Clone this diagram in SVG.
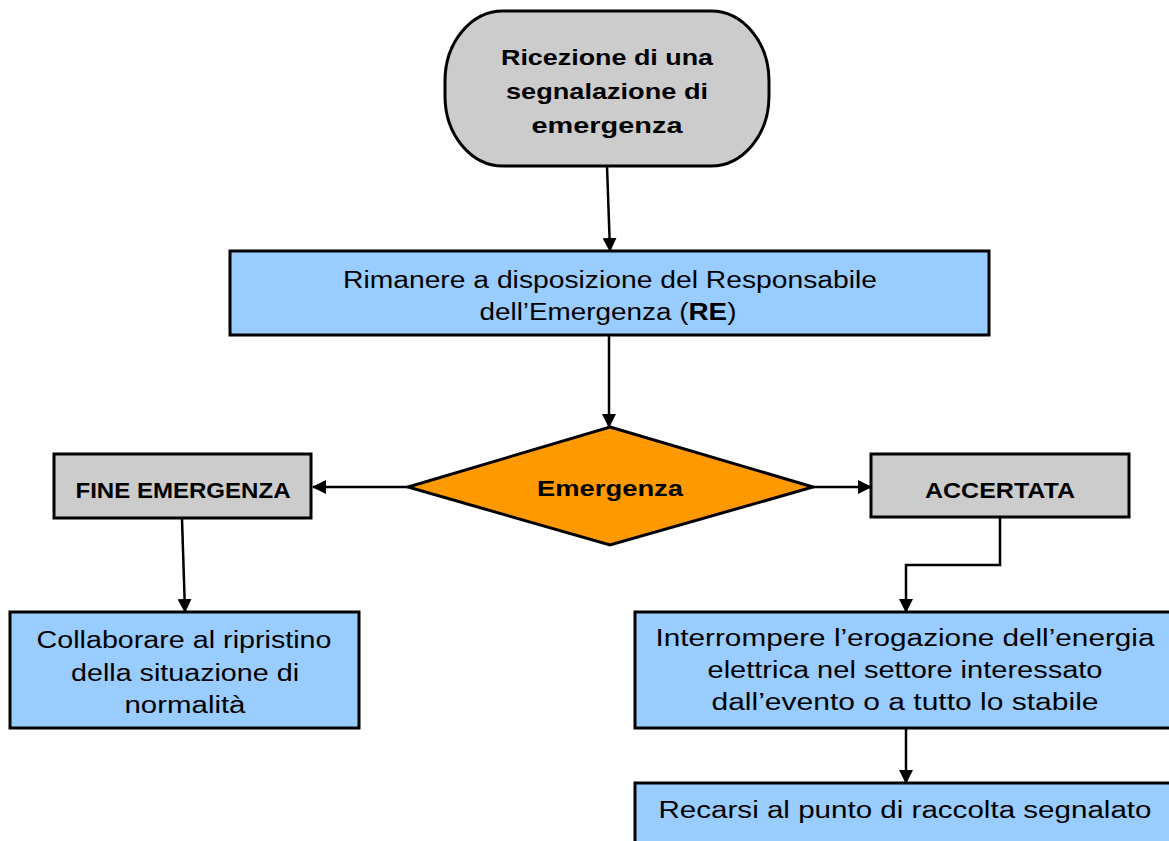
<svg xmlns="http://www.w3.org/2000/svg" width="1169" height="841" viewBox="0 0 1169 841">
<defs>
<marker id="ah" markerWidth="14" markerHeight="14" refX="13" refY="7" orient="auto" markerUnits="userSpaceOnUse" viewBox="0 0 14 14">
<path d="M0,0 L14,7 L0,14 z" fill="#000"/>
</marker>
<style>
.box{stroke:#000;stroke-width:3}
.blue{fill:#99ccff}
.gray{fill:#cccccc}
.orange{fill:#ff9900}
.t{font-family:"Liberation Sans",Arial,sans-serif;font-size:23px;fill:#000;text-anchor:middle}
.b{font-family:"Liberation Sans",Arial,sans-serif;font-size:22px;font-weight:bold;fill:#000;text-anchor:middle}
.c{fill:none;stroke:#000;stroke-width:2.5}
</style>
</defs>
<rect width="1169" height="841" fill="#fff"/>
<g id="connectors">
<line class="c" x1="607" y1="166" x2="610" y2="251" marker-end="url(#ah)"/>
<line class="c" x1="609" y1="336" x2="609" y2="427" marker-end="url(#ah)"/>
<line class="c" x1="408" y1="487" x2="313" y2="487" marker-end="url(#ah)"/>
<line class="c" x1="182" y1="519" x2="185" y2="612" marker-end="url(#ah)"/>
<line class="c" x1="813" y1="487" x2="871" y2="487" marker-end="url(#ah)"/>
<polyline class="c" points="1000,518 1000,565 906,565 906,612" marker-end="url(#ah)"/>
<line class="c" x1="906" y1="729" x2="906" y2="783" marker-end="url(#ah)"/>
</g>
<g id="start">
<rect class="box gray" x="445" y="11" width="324" height="155" rx="58" ry="70"/>
<text class="b" x="607" y="65" textLength="212" lengthAdjust="spacingAndGlyphs">Ricezione di una</text>
<text class="b" x="607" y="99" textLength="202" lengthAdjust="spacingAndGlyphs">segnalazione di</text>
<text class="b" x="607" y="133" textLength="151" lengthAdjust="spacingAndGlyphs">emergenza</text>
</g>
<g id="rimanere">
<rect class="box blue" x="230" y="251" width="759" height="84"/>
<text class="t" x="610" y="288" textLength="534" lengthAdjust="spacingAndGlyphs">Rimanere a disposizione del Responsabile</text>
<text class="t" x="608" y="320" textLength="257" lengthAdjust="spacingAndGlyphs">dell’Emergenza (<tspan font-weight="bold">RE</tspan>)</text>
</g>
<g id="decision">
<polygon class="box orange" stroke-width="2" points="610,427 813,487 610,545 408,487"/>
<text class="b" x="610" y="496" textLength="146" lengthAdjust="spacingAndGlyphs">Emergenza</text>
</g>
<g id="fine">
<rect class="box gray" x="54" y="454" width="257" height="64"/>
<text class="b" x="183" y="498" textLength="215" lengthAdjust="spacingAndGlyphs">FINE EMERGENZA</text>
</g>
<g id="accertata">
<rect class="box gray" x="871" y="454" width="258" height="63"/>
<text class="b" x="1000" y="498" textLength="150" lengthAdjust="spacingAndGlyphs">ACCERTATA</text>
</g>
<g id="collaborare">
<rect class="box blue" x="10" y="612" width="349" height="116"/>
<text class="t" x="184" y="648" textLength="295" lengthAdjust="spacingAndGlyphs">Collaborare al ripristino</text>
<text class="t" x="185" y="681" textLength="228" lengthAdjust="spacingAndGlyphs">della situazione di</text>
<text class="t" x="185" y="713" textLength="121" lengthAdjust="spacingAndGlyphs">normalità</text>
</g>
<g id="interrompere">
<rect class="box blue" x="635" y="612" width="536" height="116"/>
<text class="t" x="905" y="646" textLength="499" lengthAdjust="spacingAndGlyphs">Interrompere l’erogazione dell’energia</text>
<text class="t" x="905" y="678" textLength="395" lengthAdjust="spacingAndGlyphs">elettrica nel settore interessato</text>
<text class="t" x="905" y="710" textLength="387" lengthAdjust="spacingAndGlyphs">dall’evento o a tutto lo stabile</text>
</g>
<g id="recarsi">
<rect class="box blue" x="635" y="783" width="536" height="70"/>
<text class="t" x="905" y="818" textLength="493" lengthAdjust="spacingAndGlyphs">Recarsi al punto di raccolta segnalato</text>
</g>
</svg>
